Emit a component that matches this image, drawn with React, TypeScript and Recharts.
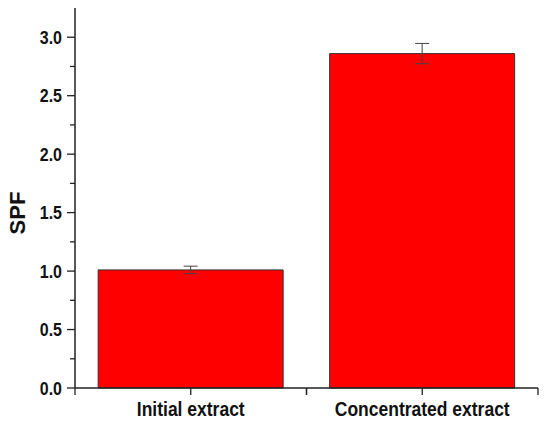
import React from "react";
import { BarChart, Bar, XAxis, YAxis, ErrorBar } from "recharts";

const categories = ["Initial extract", "Concentrated extract"];
const spfValues = [1.01, 2.86];
const spfErrors = [0.032, 0.087];
const yTicks = [0, 0.25, 0.5, 0.75, 1, 1.25, 1.5, 1.75, 2, 2.25, 2.5, 2.75, 3];
const majorTickLabels = ["0.0", "0.5", "1.0", "1.5", "2.0", "2.5", "3.0"];

const data = categories.map((c, i) => ({ name: c, spf: spfValues[i], err: spfErrors[i] }));

const W = 550;
const H = 428;
const ML = 15;
const MR = 12;
const MT = 8;
const MB = 10;
const YW = 60;
const XH = 30;
const PLOT_W = W - ML - MR - YW;
const HALF_BAND = PLOT_W / categories.length / 2;
const FONT = "'Liberation Sans', Arial, sans-serif";
const AXIS_COLOR = "#222";

const YTick = (props: any) => {
  const { x, y, payload } = props;
  const v = payload.value as number;
  const isMajor = Math.abs(v * 2 - Math.round(v * 2)) < 1e-6;
  const len = isMajor ? 8 : 5;
  return (
    <g>
      <line x1={x} x2={x - len} y1={y} y2={y} stroke={AXIS_COLOR} strokeWidth={1.3} />
      {isMajor && (
        <g transform={`translate(${x - 13}, ${y + 6.5}) scale(1, 1.1)`}>
          <text
            x={0}
            y={0}
            textAnchor="end"
            fontFamily={FONT}
            fontWeight="bold"
            fontSize={16}
            fill="#111"
          >
            {majorTickLabels[Math.round(v * 2)]}
          </text>
        </g>
      )}
    </g>
  );
};

const XTick = (props: any) => {
  const { x, y, payload } = props;
  return (
    <g>
      <line x1={x} x2={x} y1={y} y2={y + 7} stroke={AXIS_COLOR} strokeWidth={1.3} />
      <line x1={x - HALF_BAND} x2={x - HALF_BAND} y1={y} y2={y + 7} stroke={AXIS_COLOR} strokeWidth={1.3} />
      <line x1={x + HALF_BAND} x2={x + HALF_BAND} y1={y} y2={y + 7} stroke={AXIS_COLOR} strokeWidth={1.3} />
      <g transform={`translate(${x}, ${y + 28}) scale(1, 1.13)`}>
        <text
          x={0}
          y={0}
          textAnchor="middle"
          fontFamily={FONT}
          fontWeight="bold"
          fontSize={17.5}
          fill="#111"
        >
          {payload.value}
        </text>
      </g>
    </g>
  );
};

const YLabel = (props: any) => {
  const { viewBox } = props;
  const cx = 17.5;
  const cy = viewBox.y + viewBox.height / 2 + 15;
  return (
    <text
      x={cx}
      y={cy}
      transform={`rotate(-90, ${cx}, ${cy})`}
      textAnchor="middle"
      dominantBaseline="central"
      fontFamily={FONT}
      fontWeight="bold"
      fontSize={22}
      fill="#111"
    >
      SPF
    </text>
  );
};

export default function App() {
  return (
    <div style={{ position: "absolute", left: 0, top: 0, width: W, height: H, background: "#fff" }}>
      <BarChart
        width={W}
        height={H}
        data={data}
        margin={{ top: MT, right: MR, bottom: MB, left: ML }}
        barCategoryGap="10%"
      >
        <XAxis
          dataKey="name"
          height={XH}
          tickSize={0}
          tickMargin={0}
          tickLine={false}
          axisLine={{ stroke: AXIS_COLOR, strokeWidth: 1.5 }}
          tick={<XTick />}
          interval={0}
        />
        <YAxis
          width={YW}
          domain={[0, 3.25]}
          ticks={yTicks}
          interval={0}
          tickSize={0}
          tickMargin={0}
          tickLine={false}
          axisLine={{ stroke: AXIS_COLOR, strokeWidth: 1.5 }}
          tick={<YTick />}
          label={<YLabel />}
        />
        <Bar dataKey="spf" fill="#ff0000" stroke="#333" strokeWidth={1} isAnimationActive={false}>
          <ErrorBar dataKey="err" width={7} stroke="#444" strokeWidth={1} isAnimationActive={false} />
        </Bar>
      </BarChart>
    </div>
  );
}
